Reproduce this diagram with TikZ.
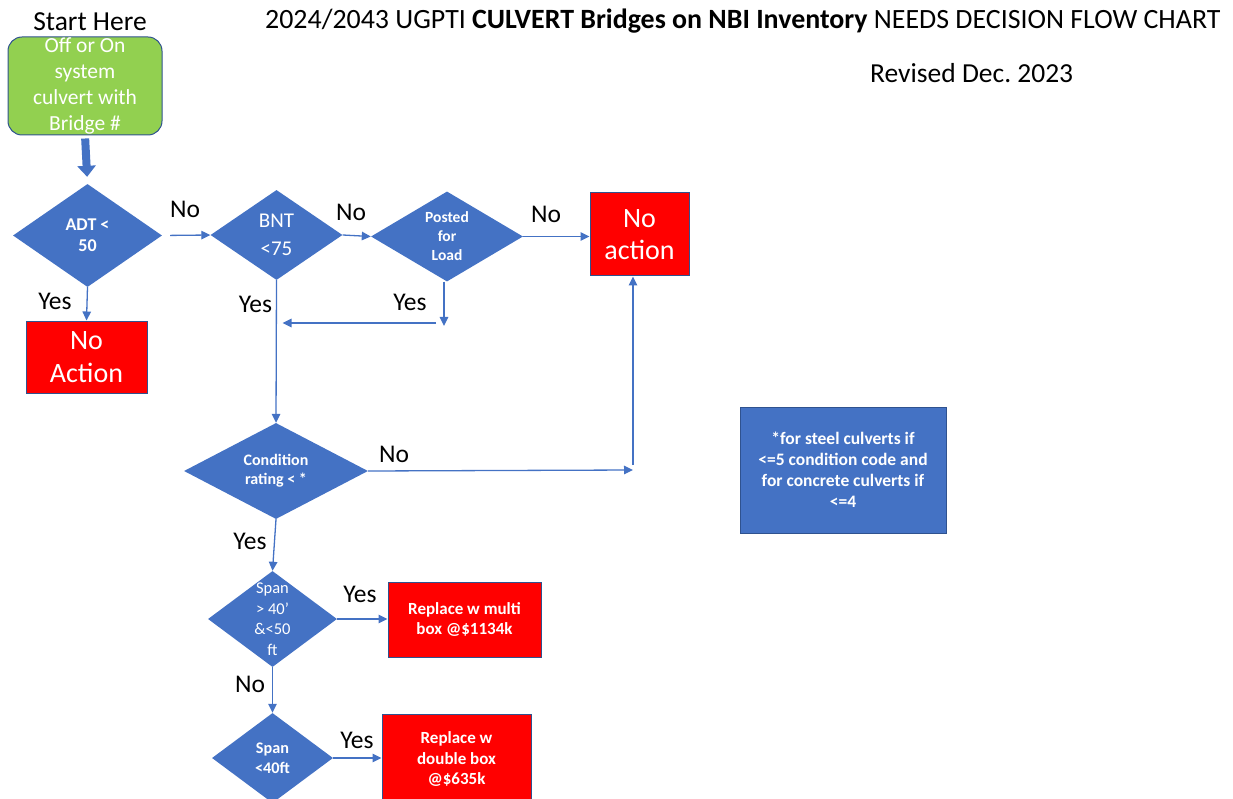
\documentclass[tikz,border=0pt]{standalone}
\usepackage{fontspec}
\setmainfont{Carlito}
\usetikzlibrary{shapes.geometric,arrows.meta}
\definecolor{cblue}{HTML}{4472C4}
\definecolor{cdark}{HTML}{2F528F}
\definecolor{cgreen}{HTML}{92D050}
\definecolor{cred}{HTML}{FF0000}
\newcommand\fsz[2]{\fontsize{#1}{#2}\selectfont}
\begin{document}
\begin{tikzpicture}[x=1pt,y=-1pt,
  dia/.style={diamond, fill=cblue, draw=none, inner sep=0pt, aspect=1},
  dtxt/.style={text=white, align=center, inner sep=0pt},
  redbox/.style={rectangle, fill=cred, draw=cdark, line width=1pt, text=white, align=center, inner sep=0pt},
  flow/.style={draw=cblue, line width=1.3pt, -{Triangle[length=9pt,width=8.5pt]}},
  lbl/.style={font=\fsz{25.5}{30}, text=black, inner sep=0pt}
]
\useasboundingbox (0,0) rectangle (1233,799);
\clip (0,0) rectangle (1233,799);

% titles
\node[anchor=base west, inner sep=0pt, font=\fsz{27.9}{32}] (title) at (265,28.5)
  {2024/2043 UGPTI \textbf{CULVERT Bridges on NBI Inventory} NEEDS DECISION FLOW CHART};
\node[anchor=base west, inner sep=0pt, font=\fsz{27.5}{32}] (rev) at (870,83) {Revised Dec.\ 2023};
\node[inner sep=0pt, font=\fsz{27.5}{32}] (starthere) at (90,21.5) {Start Here};

% start box
\node[rectangle, rounded corners=14pt, fill=cgreen, draw=cdark, line width=1pt,
  minimum width=154pt, minimum height=98pt, inner sep=0pt, text=white, align=center,
  font=\fsz{21.5}{26}] (start) at (85,86)
  {Off or On\\system\\culvert with\\Bridge \#};

% diamonds
\node[dia, minimum width=149pt, minimum height=103pt,
  label={[dtxt, font=\fsz{18}{21}\bfseries]center:{ADT <\\50}}] (adt) at (87.5,235.5) {};
\node[dia, minimum width=132pt, minimum height=90pt,
  label={[dtxt, font=\fsz{21}{28}]center:{BNT\\<75}}] (bnt) at (276.5,235) {};
\node[dia, minimum width=152pt, minimum height=90pt,
  label={[dtxt, font=\fsz{15.5}{19}\bfseries]center:{Posted\\for\\Load}}] (post) at (447,236.5) {};
\node[dia, minimum width=184pt, minimum height=96pt,
  label={[dtxt, font=\fsz{16}{19}\bfseries]center:{Condition\\rating < *}}] (cond) at (276,471) {};
\node[dia, minimum width=129pt, minimum height=96pt,
  label={[dtxt, font=\fsz{16.5}{20.5}]center:{Span\\> 40’\\\&<50\\ft}}] (span1) at (272.5,619) {};
\node[dia, minimum width=121pt, minimum height=90pt,
  label={[dtxt, font=\fsz{16.2}{19.5}\bfseries]center:{Span\\<40ft}}] (span2) at (272.5,758) {};

% boxes
\node[redbox, minimum width=99pt, minimum height=83pt, font=\fsz{28}{32.5}] (noact) at (639.5,234.5) {No\\action};
\node[redbox, minimum width=121pt, minimum height=72pt, font=\fsz{28}{33}] (noact1) at (86.5,357) {No\\Action};
\node[redbox, minimum width=153pt, minimum height=75pt, font=\fsz{17}{20.5}\bfseries] (box1) at (464.5,619.5) {Replace w multi\\box @\$1134k};
\node[redbox, minimum width=149pt, minimum height=90pt, font=\fsz{17}{20.5}\bfseries] (box2) at (456.5,759) {Replace w\\double box\\@\$635k};
\node[rectangle, fill=cblue, draw=cdark, line width=1pt, minimum width=206pt, minimum height=126pt,
  inner sep=0pt, text=white, align=center, font=\fsz{17.5}{21}\bfseries] (note) at (843,470)
  {*for steel culverts if\\<=5 condition code and\\for concrete culverts if\\<=4};

% start arrow
\draw[cblue, line width=8pt, -{Triangle[length=11pt,width=18pt]}, shorten <=3pt, shorten >=7pt]
  (start.south) -- (adt.north);

% connectors
\draw[flow, shorten <=8pt] (adt.east) -- (bnt.west);
\draw[flow] (bnt.east) -- (post.west);
\draw[flow] (post.east) -- (post.east -| noact.west);
\draw[flow] (adt.south) -- (noact1.north);
\coordinate (py) at (444,326);
\draw[flow] (post.south -| py) -- (py);
\coordinate (pyl) at (436,323);
\draw[flow, shorten >=6pt] (pyl) -- (pyl -| bnt.south);
\draw[flow] (bnt.south) -- (cond.north);
\coordinate (cr) at (633,470);
\draw[flow] (cond.east) -- (cr);
\coordinate (cu) at (633,465);
\draw[flow] (cu) -- (cu |- noact.south);
\draw[flow] (cond.south) -- (span1.north);
\draw[flow] (span1.east) -- (span1.east -| box1.west);
\draw[flow] (span1.south) -- (span2.north);
\draw[flow] (span2.east) -- (span2.east -| box2.west);

% Yes / No labels
\node[lbl] (l1) at (185,209) {No};
\node[lbl] (l2) at (351,212) {No};
\node[lbl] (l3) at (546,214) {No};
\node[lbl] (l4) at (55,301) {Yes};
\node[lbl] (l5) at (255.5,304) {Yes};
\node[lbl] (l6) at (410,302) {Yes};
\node[lbl] (l7) at (394,454) {No};
\node[lbl] (l8) at (250,541) {Yes};
\node[lbl] (l9) at (360,594) {Yes};
\node[lbl] (l10) at (250,684) {No};
\node[lbl] (l11) at (357,740) {Yes};
\end{tikzpicture}
\end{document}
